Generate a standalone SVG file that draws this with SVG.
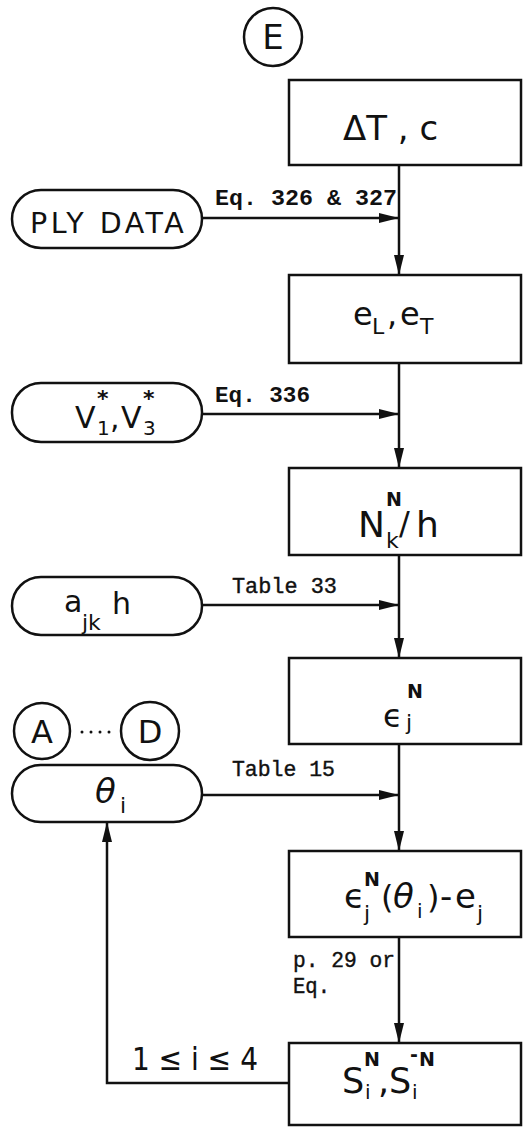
<svg xmlns="http://www.w3.org/2000/svg" width="525" height="1129" viewBox="0 0 525 1129">
<defs>
<marker id="ah" viewBox="0 0 20 10" refX="20" refY="5" markerWidth="20" markerHeight="10" markerUnits="userSpaceOnUse" orient="auto">
<path d="M0,0 L20,5 L0,10 Z" fill="#111"/>
</marker>
<style>
.box{fill:#fff;stroke:#111;stroke-width:2.5}
.pill{fill:#fff;stroke:#111;stroke-width:2.5}
.ln{fill:none;stroke:#111;stroke-width:2.5}
.t{font-family:"DejaVu Sans","Liberation Sans",sans-serif;fill:#111}
.m{font-family:"Liberation Mono","DejaVu Sans Mono",monospace;fill:#111;font-size:22px}
.b{font-weight:bold}
.th{stroke:#111;stroke-width:0.4}
</style>
</defs>
<rect width="525" height="1129" fill="#fff"/>

<g id="connectors">
<line class="ln" x1="399" y1="165" x2="399" y2="275" marker-end="url(#ah)"/>
<line class="ln" x1="399" y1="363" x2="399" y2="468" marker-end="url(#ah)"/>
<line class="ln" x1="399" y1="555" x2="399" y2="658" marker-end="url(#ah)"/>
<line class="ln" x1="399" y1="744" x2="399" y2="851" marker-end="url(#ah)"/>
<line class="ln" x1="399" y1="937" x2="399" y2="1043" marker-end="url(#ah)"/>
<line class="ln" x1="202" y1="218" x2="399" y2="218" marker-end="url(#ah)"/>
<line class="ln" x1="202" y1="414" x2="399" y2="414" marker-end="url(#ah)"/>
<line class="ln" x1="202" y1="605" x2="399" y2="605" marker-end="url(#ah)"/>
<line class="ln" x1="202" y1="795" x2="399" y2="795" marker-end="url(#ah)"/>
<polyline class="ln" points="289,1083 107,1083 107,822" marker-end="url(#ah)"/>
<text class="m b" x="215" y="205" textLength="182" lengthAdjust="spacingAndGlyphs">Eq. 326 &amp; 327</text>
<text class="m b" x="215" y="402" textLength="95" lengthAdjust="spacingAndGlyphs">Eq. 336</text>
<text class="m th" x="232" y="593" textLength="105" lengthAdjust="spacingAndGlyphs">Table 33</text>
<text class="m th" x="232" y="776" textLength="103" lengthAdjust="spacingAndGlyphs">Table 15</text>
<text class="m th" x="293" y="967" textLength="102" lengthAdjust="spacingAndGlyphs">p. 29 or</text>
<text class="m th" x="293" y="993" textLength="37" lengthAdjust="spacingAndGlyphs">Eq.</text>
<text class="t" x="132" y="1070" font-size="32" textLength="126" lengthAdjust="spacingAndGlyphs">1 ≤ i ≤ 4</text>
</g>

<g id="E">
<circle cx="273" cy="37" r="29" fill="#fff" stroke="#111" stroke-width="2.5"/>
<text class="t" x="273" y="49" font-size="34" text-anchor="middle">E</text>
</g>

<g id="box1">
<rect class="box" x="289" y="80" width="232" height="85"/>
<text class="t" x="343" y="140" font-size="34">ΔT , c</text>
</g>

<g id="box2">
<rect class="box" x="289" y="275" width="232" height="88"/>
<text class="t" font-size="32"><tspan x="353" y="325">e</tspan><tspan x="372" y="334" font-size="22">L</tspan><tspan x="387" y="325">,</tspan><tspan x="400" y="325">e</tspan><tspan x="420" y="334" font-size="22">T</tspan></text>
</g>

<g id="box3">
<rect class="box" x="289" y="468" width="232" height="87"/>
<text class="t" font-size="36"><tspan x="358" y="537">N</tspan><tspan x="386" y="506" font-size="19" font-weight="bold">N</tspan><tspan x="386" y="548" font-size="22">k</tspan><tspan x="399" y="534" font-size="32">/</tspan><tspan x="416" y="537">h</tspan></text>
</g>

<g id="box4">
<rect class="box" x="289" y="658" width="232" height="86"/>
<text class="t" font-size="32"><tspan x="383" y="727">ϵ</tspan><tspan x="407" y="698" font-size="19" font-weight="bold">N</tspan><tspan x="406" y="730" font-size="22">j</tspan></text>
</g>

<g id="box5">
<rect class="box" x="289" y="851" width="232" height="86"/>
<text class="t" font-size="34"><tspan x="344" y="908">ϵ</tspan><tspan x="364" y="886" font-size="19" font-weight="bold">N</tspan><tspan x="364" y="921" font-size="22">j</tspan><tspan x="381" y="908" font-size="32">(</tspan><tspan x="393" y="908" font-style="italic">θ</tspan><tspan x="417" y="918" font-size="20">i</tspan><tspan x="427" y="908" font-size="32">)</tspan><tspan x="440" y="908">-</tspan><tspan x="455" y="908">e</tspan><tspan x="477" y="921" font-size="22">j</tspan></text>
</g>

<g id="box6">
<rect class="box" x="289" y="1043" width="232" height="82"/>
<text class="t" font-size="35"><tspan x="342" y="1093">S</tspan><tspan x="364" y="1066" font-size="19" font-weight="bold">N</tspan><tspan x="365" y="1099" font-size="20">i</tspan><tspan x="378" y="1093">,</tspan><tspan x="389" y="1093">S</tspan><tspan x="410" y="1061" font-size="19" font-weight="bold">-</tspan><tspan x="419" y="1066" font-size="19" font-weight="bold">N</tspan><tspan x="412" y="1099" font-size="20">i</tspan></text>
</g>

<g id="ply">
<rect class="pill" x="12" y="190" width="190" height="58" rx="29"/>
<text class="t" x="30" y="233" font-size="28.5" letter-spacing="3.5">PLY DATA</text>
</g>

<g id="v">
<rect class="pill" x="12" y="383" width="190" height="59" rx="29"/>
<text class="t" font-size="30"><tspan x="75" y="428">V</tspan><tspan x="97" y="435" font-size="20">1</tspan><tspan x="97" y="406" font-size="22" font-weight="bold">*</tspan><tspan x="110" y="428">,</tspan><tspan x="121" y="428">V</tspan><tspan x="143" y="435" font-size="20">3</tspan><tspan x="143" y="406" font-size="22" font-weight="bold">*</tspan></text>
</g>

<g id="a">
<rect class="pill" x="12" y="577" width="190" height="58" rx="29"/>
<text class="t" font-size="30"><tspan x="64" y="612">a</tspan><tspan x="82" y="630" font-size="22">jk</tspan><tspan x="112" y="614">h</tspan></text>
</g>

<g id="AD">
<circle cx="42" cy="731" r="28" fill="#fff" stroke="#111" stroke-width="2.5"/>
<text class="t" x="42" y="743" font-size="32" text-anchor="middle">A</text>
<circle cx="150" cy="731" r="29" fill="#fff" stroke="#111" stroke-width="2.5"/>
<text class="t" x="150" y="743" font-size="32" text-anchor="middle">D</text>
<g fill="#111"><circle cx="82" cy="732" r="1.5"/><circle cx="91" cy="732" r="1.5"/><circle cx="100" cy="732" r="1.5"/><circle cx="109" cy="732" r="1.5"/></g>
</g>

<g id="theta">
<rect class="pill" x="12" y="765" width="190" height="57" rx="28.5"/>
<text class="t" font-size="34"><tspan x="95" y="803" font-style="italic">θ</tspan><tspan x="120" y="813" font-size="22">i</tspan></text>
</g>
</svg>
